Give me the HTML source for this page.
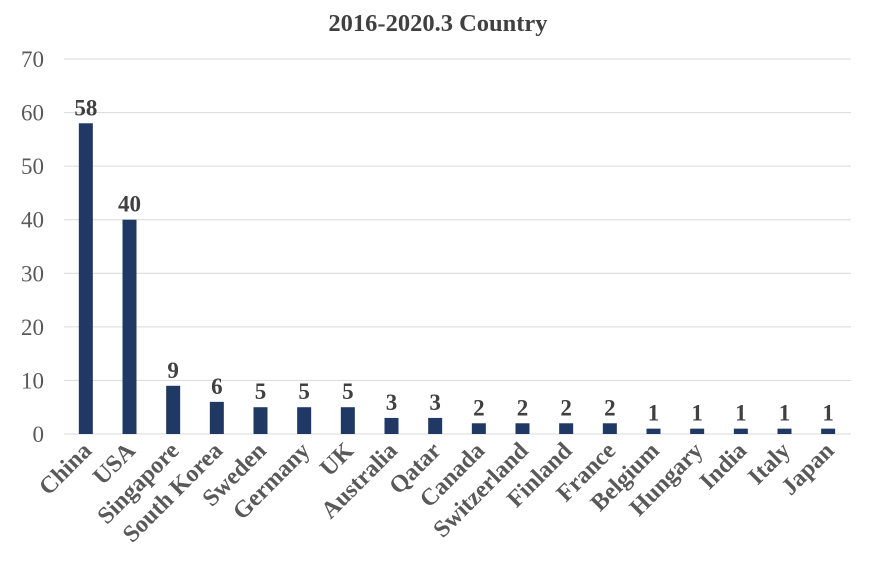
<!DOCTYPE html>
<html><head><meta charset="utf-8"><style>
body{margin:0;background:#fff}
svg{display:block;font-family:"Liberation Serif",serif}
</style></head><body>
<svg id="chart" width="881" height="568" viewBox="0 0 881 568">
<text x="438" y="31" text-anchor="middle" font-size="24.5" font-weight="bold" fill="#404040">2016-2020.3 Country</text>
<g id="grid"></g><g id="bars"></g><g id="labels"></g>
</svg>
<script>
const categories=["China","USA","Singapore","South Korea","Sweden","Germany","UK","Australia","Qatar","Canada","Switzerland","Finland","France","Belgium","Hungary","India","Italy","Japan"];
const values=[58,40,9,6,5,5,5,3,3,2,2,2,2,1,1,1,1,1];
const yTicks=[0,10,20,30,40,50,60,70];
const NS="http://www.w3.org/2000/svg";
const x0=64,x1=850,y0=434,yTop=59,yMax=70;
const band=(x1-x0)/categories.length;
const y=v=>y0-(v/yMax)*(y0-yTop);
const xc=i=>x0+band*(i+0.5);
function mk(tag,attrs,parent,txt){const e=document.createElementNS(NS,tag);for(const k in attrs)e.setAttribute(k,attrs[k]);if(txt!==undefined)e.textContent=txt;document.getElementById(parent).appendChild(e);return e;}
yTicks.forEach(t=>{
 const l=mk('line',{x1:x0,x2:x1+1,y1:y(t),y2:y(t),stroke:'#d9d9d9','stroke-width':1},'grid');
 
 
 const tx=mk('text',{x:44,y:y(t)+8,'text-anchor':'end','font-size':23,fill:'#595959'},'grid',t);
 
 
});
categories.forEach((c,i)=>{
 const v=values[i];
 const r=mk('rect',{x:xc(i)-7,y:y(v),width:14,height:y0-y(v),fill:'#1f3864'},'bars');
 
 
 const vl=mk('text',{x:xc(i),y:y(v)-8,'text-anchor':'middle','font-size':23,'font-weight':'bold',fill:'#404040'},'labels',v);
 
 
 const cx=xc(i)+7,cy=452;
 const xl=mk('text',{x:cx,y:cy,'text-anchor':'end','font-size':24,'font-weight':'bold',fill:'#595959',transform:`rotate(-45 ${cx} ${cy})`},'labels',c);
 
 
});
</script>
</body></html>
